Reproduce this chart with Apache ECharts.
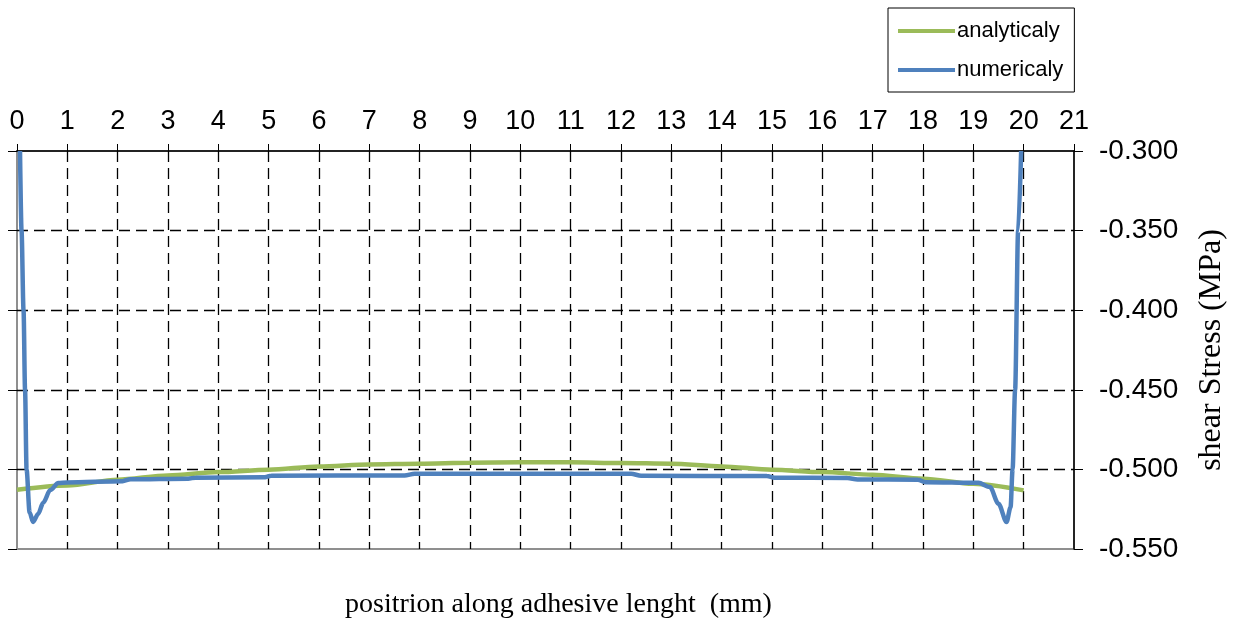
<!DOCTYPE html>
<html>
<head>
<meta charset="utf-8">
<script src="https://cdn.jsdelivr.net/npm/echarts@6/dist/echarts.min.js"></script>
<style>
  html, body { margin: 0; padding: 0; background: #ffffff; }
  #chart { width: 1236px; height: 625px; }
</style>
</head>
<body>
<div id="chart"></div>
<script>
// Shear stress along the adhesive layer: closed-form vs. finite-element result
const xTicks = [0, 21, 1];          // min, max, step of the position axis (mm)
const yTicks = [-0.55, -0.30, 0.05]; // min, max, step of the stress axis (MPa)

// analytical solution, sampled every 1 mm
const analyticalX = [0, 1, 2, 3, 4, 5, 6, 7, 8, 9, 10, 11, 12, 13, 14, 15, 16, 17, 18, 19, 20];
const analyticalY = [-0.5128, -0.5101, -0.5065, -0.5038, -0.5017, -0.5002, -0.4981, -0.4969, -0.4964, -0.4958,
                     -0.4955, -0.4955, -0.4960, -0.4964, -0.4981, -0.5002, -0.5017, -0.5033, -0.5058, -0.5090, -0.5132];

// numerical (FE) solution
const numericalX = [0.06, 0.09, 0.13, 0.16, 0.19, 0.25, 0.32, 0.42, 0.52, 0.66, 0.82, 1.0,
                    2.1, 2.25, 3.4, 3.55, 4.9, 5.05, 7.7, 7.9, 12.2, 12.4, 14.9, 15.05,
                    16.5, 16.7, 17.9, 18.05, 19.1, 19.33, 19.5, 19.66, 19.74, 19.78, 19.83, 19.89, 19.95];
const numericalY = [-0.300, -0.350, -0.400, -0.450, -0.500, -0.527, -0.533, -0.528, -0.521, -0.513, -0.5086, -0.5082,
                    -0.5074, -0.5062, -0.5058, -0.5052, -0.5050, -0.5040, -0.5038, -0.5027, -0.5027, -0.5040, -0.5042, -0.5052,
                    -0.5054, -0.5063, -0.5065, -0.5080, -0.5084, -0.5111, -0.5216, -0.533, -0.5237, -0.500, -0.450, -0.350, -0.300];

const seriesNames = ['analyticaly', 'numericaly'];
const xTitle = 'positrion along adhesive lenght  (mm)';
const yTitle = 'shear Stress (MPa)';

const pairs = (xs, ys) => xs.map((x, i) => [x, ys[i]]);

const sans = '"Liberation Sans", Arial, sans-serif';
const serif = '"Liberation Serif", "Times New Roman", serif';
const dashed = {
  show: true, showMinLine: false, showMaxLine: false,
  lineStyle: { color: '#000', width: 1.3, type: [11, 6] }
};

const chart = echarts.init(document.getElementById('chart'), null, { renderer: 'canvas' });
chart.setOption({
  animation: false,
  backgroundColor: '#ffffff',
  grid: {
    left: 17, right: 162, top: 151, bottom: 76,
    show: true, borderColor: '#8f8f8f', borderWidth: 2, backgroundColor: 'transparent'
  },
  legend: {
    orient: 'vertical',
    left: 888, top: 8,
    padding: [12, 11, 11, 10],
    itemGap: 17,
    itemWidth: 57, itemHeight: 4,
    icon: 'rect',
    borderColor: '#000', borderWidth: 1,
    textStyle: { fontFamily: sans, fontSize: 22, color: '#000', lineHeight: 22, padding: [0, 0, 0, -3] },
    data: seriesNames
  },
  graphic: [{
    type: 'text', left: 345, top: 591,
    style: { text: xTitle, font: '28px ' + serif, fill: '#000' }
  }],
  xAxis: {
    type: 'value', position: 'top',
    min: xTicks[0], max: xTicks[1], interval: xTicks[2],
    axisLine: { show: true, onZero: false, lineStyle: { color: '#000', width: 1.5 } },
    axisTick: { show: true, length: 7, lineStyle: { color: '#000' } },
    axisLabel: { fontFamily: sans, fontSize: 27, color: '#000', margin: 16,
                 showMinLabel: true, showMaxLabel: true },
    splitLine: dashed
  },
  yAxis: [{
    type: 'value', position: 'right',
    min: yTicks[0], max: yTicks[1], interval: yTicks[2],
    axisLine: { show: true, onZero: false, lineStyle: { color: '#000', width: 1.5 } },
    axisTick: { show: true, length: 9, lineStyle: { color: '#000' } },
    axisLabel: { fontFamily: sans, fontSize: 28, color: '#000', margin: 25,
                 formatter: v => v.toFixed(3) },
    splitLine: dashed,
    name: yTitle, nameLocation: 'middle', nameRotate: 90, nameGap: 122,
    nameTextStyle: { fontFamily: serif, fontSize: 32, color: '#000' }
  }, {
    // inward half of the cross ticks on the stress axis
    type: 'value', position: 'right',
    min: yTicks[0], max: yTicks[1], interval: yTicks[2],
    axisLine: { show: false },
    axisTick: { show: true, inside: true, length: 9, lineStyle: { color: '#000' } },
    axisLabel: { show: false },
    splitLine: { show: false }
  }],
  series: [{
    name: seriesNames[0], type: 'line',
    data: pairs(analyticalX, analyticalY),
    showSymbol: false, smooth: 0.3, smoothMonotone: 'x',
    lineStyle: { color: '#9BBB59', width: 4.5 }, itemStyle: { color: '#9BBB59' },
    z: 2
  }, {
    name: seriesNames[1], type: 'line',
    data: pairs(numericalX, numericalY),
    showSymbol: false, smooth: 0.3, smoothMonotone: 'x',
    lineStyle: { color: '#4F81BD', width: 4.5 }, itemStyle: { color: '#4F81BD' },
    z: 3
  }]
});
</script>
</body>
</html>
